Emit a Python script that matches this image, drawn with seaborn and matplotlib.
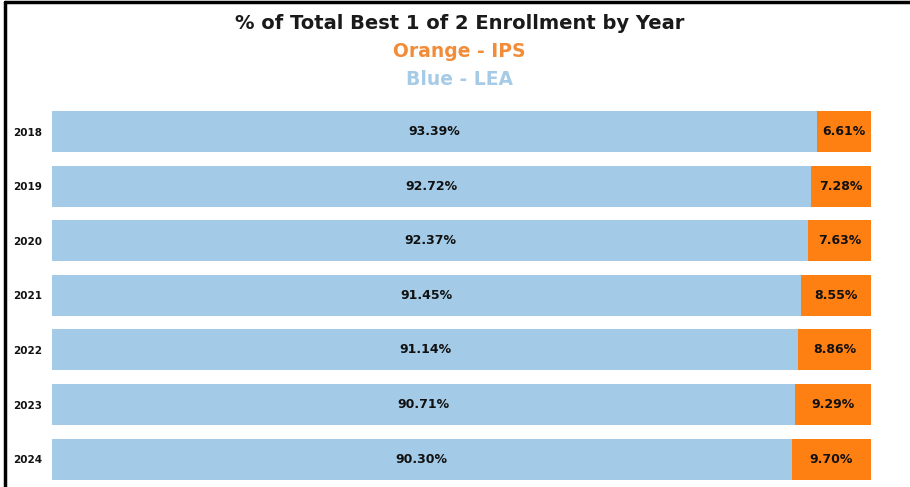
import matplotlib
matplotlib.use("Agg")
import matplotlib.pyplot as plt
import seaborn as sns
import pandas as pd

# Enrollment shares by year
years = ["2018", "2019", "2020", "2021", "2022", "2023", "2024"]
lea = [93.39, 92.72, 92.37, 91.45, 91.14, 90.71, 90.30]
ips = [6.61, 7.28, 7.63, 8.55, 8.86, 9.29, 9.70]

df = pd.DataFrame({"Year": years, "LEA": lea, "IPS": ips})
df["Total"] = df["LEA"] + df["IPS"]

blue = "#A3CBE8"
orange = "#FF8012"

sns.set_style("white")
plt.rcParams["font.family"] = ["DejaVu Sans"]

fig = plt.figure(figsize=(9.10, 4.87), dpi=100)
ax = fig.add_axes([0.0571, 0.001, 0.9, 0.785])

# stacked bars: full total in orange, LEA share drawn over it in blue
sns.barplot(data=df, x="Total", y="Year", color=orange, width=0.75,
            orient="h", ax=ax, saturation=1, edgecolor="none")
sns.barplot(data=df, x="LEA", y="Year", color=blue, width=0.75,
            orient="h", ax=ax, saturation=1, edgecolor="none")

for i, (a, b) in enumerate(zip(lea, ips)):
    ax.text(a / 2, i, f"{a:.2f}%", ha="center", va="center",
            fontsize=9, fontweight="bold", color="#111111")
    ax.text(a + b / 2, i, f"{b:.2f}%", ha="center", va="center",
            fontsize=9, fontweight="bold", color="#111111")

ax.set_xlim(0, 100)
ax.set_ylim(6.5, -0.5)
ax.set_xlabel("")
ax.set_ylabel("")
ax.set_xticks([])
ax.tick_params(axis="y", length=0, pad=7, labelsize=7.5, labelcolor="#111111")
for lbl in ax.get_yticklabels():
    lbl.set_fontweight("bold")
sns.despine(ax=ax, left=True, bottom=True)

# titles
fig.text(0.505, 0.952, "% of Total Best 1 of 2 Enrollment by Year",
         ha="center", va="center", fontsize=14, fontweight="bold",
         color="#1a1a1a")
fig.text(0.505, 0.895, "Orange - IPS", ha="center", va="center",
         fontsize=13.5, fontweight="bold", color="#F28C38")
fig.text(0.505, 0.837, "Blue - LEA", ha="center", va="center",
         fontsize=13.5, fontweight="bold", color="#A6CBE6")

# frame lines left and top
fig.add_artist(plt.Line2D([0.006, 0.006], [0.0, 0.996], color="black",
                          lw=2.5, transform=fig.transFigure))
fig.add_artist(plt.Line2D([0.006, 1.0], [0.996, 0.996], color="black",
                          lw=2.5, transform=fig.transFigure))

fig.savefig("out.png", dpi=100)
